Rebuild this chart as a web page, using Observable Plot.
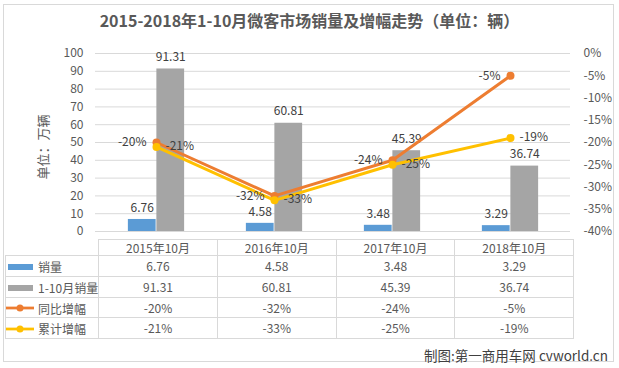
<!DOCTYPE html>
<html><head><meta charset="utf-8">
<script src="https://cdn.jsdelivr.net/npm/d3@7"></script>
<script src="https://cdn.jsdelivr.net/npm/@observablehq/plot@0.6"></script>
<style>
  html,body{margin:0;padding:0;background:#fff;}
  #wrap{position:relative;width:619px;height:368px;overflow:hidden;font-family:"Noto Sans CJK SC","Noto Sans",sans-serif;color:#595959;}
  #frame{position:absolute;left:3px;top:4px;width:611px;height:358px;border:1px solid #d9d9d9;box-sizing:border-box;}
  #title{position:absolute;left:0;width:619px;top:9px;line-height:22px;text-align:center;font-size:16px;font-weight:bold;color:#595959;}
  #ytitle{position:absolute;left:42px;top:147px;transform:translate(-50%,-50%) rotate(-90deg);font-size:13px;white-space:nowrap;color:#595959;}
  #chart{position:absolute;left:0;top:0;}
  #tbl{position:absolute;left:5px;top:239px;border-collapse:collapse;table-layout:fixed;font-size:12px;color:#595959;}
  #tbl td{border:1px solid #d9d9d9;padding:0;text-align:center;white-space:nowrap;line-height:14px;}
  #tbl td.lab{text-align:left;}
  #tbl tr.h td.blank{border-top:none;border-left:none;}
  #caption{position:absolute;right:11px;top:345px;font-size:13.5px;line-height:20px;color:#404040;white-space:nowrap;}
  .key{display:inline-block;vertical-align:middle;margin-right:3px;}
</style></head>
<body>
<div id="wrap">
  <div id="frame"></div>
  <div id="title">2015-2018年1-10月微客市场销量及增幅走势（单位：辆）</div>
  <div id="ytitle">单位：万辆</div>
  <div id="chart"></div>
  <table id="tbl"></table>
  <div id="caption">制图:第一商用车网 cvworld.cn</div>
</div>
<script>
const categories = ["2015年10月", "2016年10月", "2017年10月", "2018年10月"];
const monthlySales = [6.76, 4.58, 3.48, 3.29];
const ytdSales = [91.31, 60.81, 45.39, 36.74];
const yoyGrowth = [-20, -32, -24, -5];
const ytdGrowth = [-21, -33, -25, -19];
const leftTicks = [0, 10, 20, 30, 40, 50, 60, 70, 80, 90, 100];
const rightTicks = [0, -5, -10, -15, -20, -25, -30, -35, -40];
const seriesNames = ["销量", "1-10月销量", "同比增幅", "累计增幅"];
const colors = ["#5B9BD5", "#A5A5A5", "#ED7D31", "#FFC000"];

const rows = categories.map((c, i) => ({cat: c, monthly: monthlySales[i], ytd: ytdSales[i], yoy: yoyGrowth[i], ytdg: ytdGrowth[i]}));
const pct = p => (p + 40) * 2.5;   // map -40%..0% onto the 0..100 primary scale
const fmtPct = p => `${p}%`;
const half = 118.75 / 2, barW = 28.5;

const chart = Plot.plot({
  width: 619, height: 368,
  marginLeft: 95, marginRight: 49, marginTop: 53, marginBottom: 137,
  x: {type: "band", domain: categories, padding: 0, axis: null},
  y: {domain: [0, 100]},
  style: {fontFamily: '"Noto Sans CJK SC","Noto Sans",sans-serif', fontSize: "12px", background: "none", color: "#595959"},
  marks: [
    Plot.gridY(leftTicks, {stroke: "#d9d9d9", strokeOpacity: 1}),
    Plot.axisY(leftTicks, {anchor: "left", tickSize: 0, tickPadding: 12, tickFormat: d => String(d), fill: "#595959", fontSize: 12}),
    Plot.axisY(rightTicks.map(pct), {anchor: "right", tickSize: 0, tickPadding: 13, tickFormat: v => `${Math.round(v / 2.5 - 40)}%`, fill: "#595959", fontSize: 12}),
    Plot.barY(rows, {x: "cat", y: "monthly", fill: colors[0], insetLeft: half - barW, insetRight: half}),
    Plot.barY(rows, {x: "cat", y: "ytd", fill: colors[1], insetLeft: half, insetRight: half - barW}),
    Plot.text(rows, {x: "cat", y: "monthly", text: d => d.monthly.toFixed(2), dx: -barW / 2, dy: -11, fill: "#404040", fontSize: 12}),
    Plot.text(rows, {x: "cat", y: "ytd", text: d => d.ytd.toFixed(2), dx: barW / 2, dy: -12, fill: "#404040", fontSize: 12}),
    Plot.line(rows, {x: "cat", y: d => pct(d.yoy), stroke: colors[2], strokeWidth: 3}),
    Plot.dot(rows, {x: "cat", y: d => pct(d.yoy), r: 4, fill: colors[2]}),
    Plot.line(rows, {x: "cat", y: d => pct(d.ytdg), stroke: colors[3], strokeWidth: 3}),
    Plot.dot(rows, {x: "cat", y: d => pct(d.ytdg), r: 4, fill: colors[3]}),
    Plot.text(rows, {x: "cat", y: d => pct(d.yoy), text: d => fmtPct(d.yoy), textAnchor: "end", dx: -10, dy: 0, fill: "#404040", fontSize: 12}),
    Plot.text(rows, {x: "cat", y: d => pct(d.ytdg), text: d => fmtPct(d.ytdg), textAnchor: "start", dx: 9, dy: -1, fill: "#404040", fontSize: 12})
  ]
});
document.getElementById("chart").appendChild(chart);

// data table below the plot
const tbl = document.getElementById("tbl");
const colgroup = document.createElement("colgroup");
[90, ...categories.map(() => 118.75)].forEach(w => { const c = document.createElement("col"); c.style.width = w + "px"; colgroup.appendChild(c); });
tbl.appendChild(colgroup);
const hdr = document.createElement("tr"); hdr.className = "h"; hdr.style.height = "16px";
const blank = document.createElement("td"); blank.className = "blank"; hdr.appendChild(blank);
categories.forEach(c => { const td = document.createElement("td"); td.textContent = c; hdr.appendChild(td); });
tbl.appendChild(hdr);
const seriesVals = [monthlySales.map(v => v.toFixed(2)), ytdSales.map(v => v.toFixed(2)), yoyGrowth.map(fmtPct), ytdGrowth.map(fmtPct)];
const rowH = [21, 21, 20, 21];
seriesNames.forEach((name, si) => {
  const tr = document.createElement("tr"); tr.style.height = rowH[si] + "px";
  const lab = document.createElement("td"); lab.className = "lab";
  const key = si < 2
    ? `<svg class="key" width="29" height="8"><rect x="2" y="1" width="25" height="6" fill="${colors[si]}"/></svg>`
    : `<svg class="key" width="29" height="8"><line x1="0" x2="28" y1="4" y2="4" stroke="${colors[si]}" stroke-width="2.75"/><circle cx="14" cy="4" r="3.5" fill="${colors[si]}"/></svg>`;
  lab.innerHTML = key + `<span style="vertical-align:middle">${name}</span>`;
  tr.appendChild(lab);
  seriesVals[si].forEach(v => { const td = document.createElement("td"); td.textContent = v; tr.appendChild(td); });
  tbl.appendChild(tr);
});
</script>
</body></html>
